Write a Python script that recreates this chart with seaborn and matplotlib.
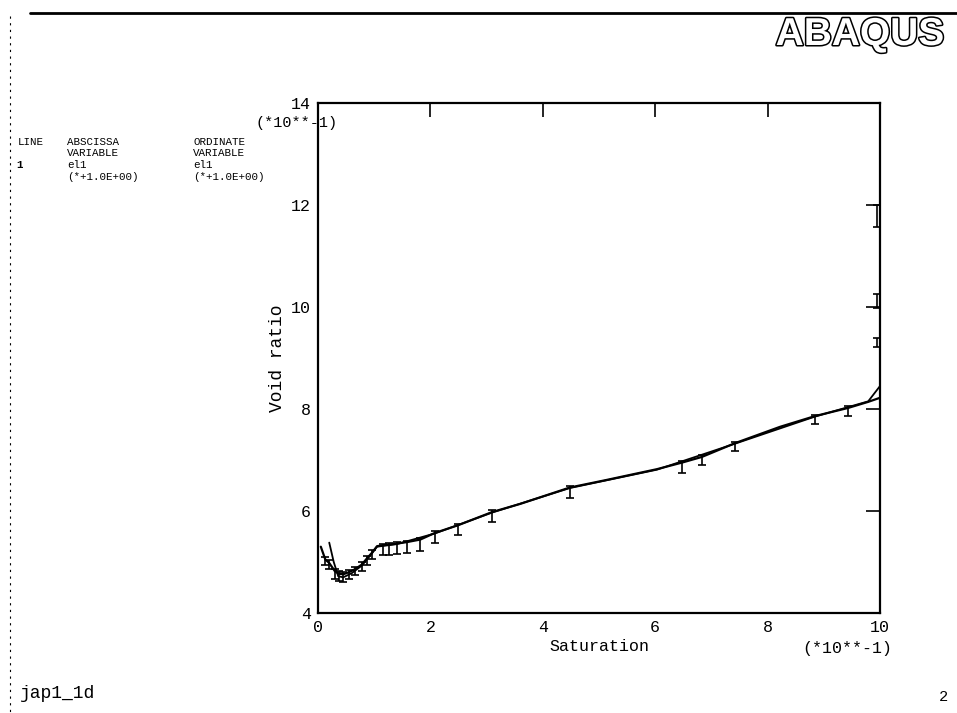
import matplotlib
matplotlib.use("Agg")
import matplotlib.pyplot as plt
import matplotlib.patheffects as pe
import seaborn as sns

# ---- data (values in units of 10**-1) ----
sat_main = [0.05, 0.13, 0.2, 0.3, 0.37, 0.45, 0.55, 0.66, 0.78, 0.87, 0.96, 1.05,
            1.16, 1.26, 1.4, 1.58, 1.82, 2.08, 2.49, 3.1, 3.6, 4.48, 5.14, 6.03,
            6.48, 6.83, 7.42, 8.22, 8.84, 9.43, 9.79, 10.0]
void_main = [5.3, 5.05, 4.98, 4.82, 4.77, 4.76, 4.8, 4.86, 4.95, 5.07, 5.18, 5.31,
             5.33, 5.34, 5.36, 5.39, 5.44, 5.57, 5.72, 5.98, 6.14, 6.46, 6.61, 6.82,
             6.95, 7.06, 7.33, 7.65, 7.86, 8.02, 8.14, 8.22]

sat_second = [0.2, 0.28, 0.36, 0.45, 0.6, 0.78, 0.96, 1.05, 1.4, 2.08, 3.1, 4.48,
              6.03, 7.42, 8.84, 9.79, 10.0]
void_second = [5.38, 5.0, 4.72, 4.7, 4.78, 4.93, 5.17, 5.3, 5.35, 5.56, 5.97, 6.45,
               6.81, 7.32, 7.85, 8.15, 8.45]

err_x = [0.13, 0.2, 0.3, 0.37, 0.45, 0.55, 0.66, 0.78, 0.87, 0.96, 1.16, 1.26,
         1.4, 1.58, 1.82, 2.08, 2.49, 3.1, 4.48, 6.48, 6.83, 7.42, 8.84, 9.43]
err_y = [5.05, 4.98, 4.82, 4.77, 4.76, 4.8, 4.86, 4.95, 5.07, 5.18, 5.33, 5.34,
         5.36, 5.39, 5.44, 5.57, 5.72, 5.98, 6.46, 6.95, 7.06, 7.33, 7.86, 8.02]
err_lo = [0.1, 0.12, 0.15, 0.15, 0.15, 0.14, 0.12, 0.12, 0.12, 0.12, 0.2, 0.2,
          0.2, 0.22, 0.22, 0.2, 0.2, 0.2, 0.2, 0.2, 0.15, 0.15, 0.15, 0.15]
err_hi = [0.05, 0.05, 0.05, 0.05, 0.05, 0.05, 0.05, 0.05, 0.05, 0.05, 0.03, 0.03,
          0.03, 0.03, 0.03, 0.03, 0.03, 0.03, 0.03, 0.03, 0.03, 0.03, 0.03, 0.03]

out_x = [9.95, 9.95, 9.95]
out_y = [11.84, 10.1, 9.3]
out_lo = [0.27, 0.12, 0.08]
out_hi = [0.16, 0.15, 0.1]

x_ticks = [0, 2, 4, 6, 8, 10]
y_ticks = [4, 6, 8, 10, 12, 14]

# ---- style ----
sns.set_theme(style="white")
plt.rcParams['font.family'] = ['Liberation Mono', 'DejaVu Sans Mono']
mono = 'Liberation Mono'

W, H = 957, 713
fig = plt.figure(figsize=(W / 100, H / 100), dpi=100)
ax = fig.add_axes([318 / W, (H - 613) / H, 562 / W, 510 / H])

sns.lineplot(x=sat_main, y=void_main, ax=ax, color='black', lw=1.6,
             estimator=None, sort=False)
sns.lineplot(x=sat_second, y=void_second, ax=ax, color='black', lw=1.3,
             estimator=None, sort=False)
ax.errorbar(err_x, err_y, yerr=[err_lo, err_hi], fmt='none', ecolor='black',
            elinewidth=1.2, capsize=3, capthick=1.2)
ax.errorbar(out_x, out_y, yerr=[out_lo, out_hi], fmt='none', ecolor='black',
            elinewidth=1.2, capsize=3, capthick=1.2)

ax.set_xlim(0, 10)
ax.set_ylim(4, 14)
ax.set_xticks(x_ticks)
ax.set_yticks(y_ticks)
ax.set_xticklabels([str(t) for t in x_ticks], fontsize=12, family=mono)
ax.set_yticklabels([str(t) for t in y_ticks], fontsize=12, family=mono)
ax.tick_params(direction='in', length=10, width=1.2, top=True, right=True,
               colors='black', pad=5)
for s in ax.spines.values():
    s.set_color('black')
    s.set_linewidth(1.6)
ax.set_xlabel('Saturation', fontsize=12, family=mono, color='black', labelpad=3)
ax.set_ylabel('Void ratio', fontsize=13, family=mono, color='black', labelpad=4)

def ft(x, y, s, **kw):
    fig.text(x / W, 1 - y / H, s, family=mono, color='black', **kw)

ft(297, 123, '(*10**-1)', fontsize=11, ha='center', va='center')
ft(847, 648, '(*10**-1)', fontsize=12, ha='center', va='center')

# legend block
lfs = 7.8
ft(18, 142, 'LINE', fontsize=lfs, va='center')
ft(67, 142, 'ABSCISSA', fontsize=lfs, va='center')
ft(67, 153, 'VARIABLE', fontsize=lfs, va='center')
ft(193, 142, 'ORDINATE', fontsize=lfs, va='center')
ft(193, 153, 'VARIABLE', fontsize=lfs, va='center')
ft(16, 165, '1', fontsize=lfs, va='center', weight='bold')
ft(67, 165, 'el1', fontsize=lfs, va='center')
ft(193, 165, 'el1', fontsize=lfs, va='center')
ft(67, 177, '(*+1.0E+00)', fontsize=lfs, va='center')
ft(193, 177, '(*+1.0E+00)', fontsize=lfs, va='center')

ft(20, 693, 'jap1_1d', fontsize=13, va='center')
ft(943, 697, '2', fontsize=11, ha='center', va='center')

# ABAQUS hollow logo
fig.text(860 / W, 1 - 35 / H, 'ABAQUS', fontsize=28, weight='bold',
         family=['Liberation Sans', 'DejaVu Sans'], color='white',
         ha='center', va='center',
         path_effects=[pe.withStroke(linewidth=2.2, foreground='black')])

# page frame lines
fig.add_artist(plt.Line2D([30 / W, 1.0], [1 - 13 / H, 1 - 13 / H],
                          transform=fig.transFigure, color='black', lw=2))
fig.add_artist(plt.Line2D([10 / W, 10 / W], [1 - 16 / H, 0.0],
                          transform=fig.transFigure, color='black', lw=0.8,
                          ls=(0, (2, 4))))

fig.savefig('out.png', dpi=100, facecolor='white')
